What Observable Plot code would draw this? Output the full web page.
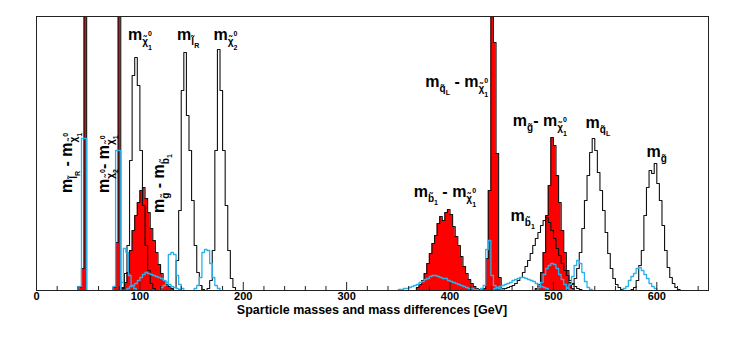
<!DOCTYPE html>
<html><head><meta charset="utf-8">
<script src="https://cdn.jsdelivr.net/npm/d3@7"></script>
<script src="https://cdn.jsdelivr.net/npm/@observablehq/plot@0.6"></script>
<style>body{margin:0;background:#fff}</style>
</head><body><div id="chart"></div>
<script>
const binWidth = 2.5;

// Open (black outline) histograms: sparticle masses
const blackNames = ["chi1", "slR", "chi2", "sb1", "sqL", "gluino"];
const blackStarts = [82.5, 132.5, 165, 450, 512.5, 575];
const blackCounts = [
  [3, 17, 45, 130, 215, 233, 205, 140, 85, 45, 20, 7, 2],
  [3, 30, 80, 200, 238, 175, 140, 90, 45, 18, 5, 1],
  [2, 10, 40, 140, 241, 200, 140, 85, 40, 12, 3],
  [1, 2, 3, 4, 5, 7, 10, 13, 18, 24, 30, 37, 45, 52, 58, 65, 70, 73, 68, 60, 52, 42, 35, 27, 20, 15, 10, 7, 4, 2, 1],
  [1, 3, 6, 12, 22, 38, 62, 90, 115, 138, 152, 140, 118, 100, 80, 58, 37, 22, 12, 6, 3, 1],
  [1, 3, 10, 25, 40, 75, 103, 120, 117, 127, 107, 90, 65, 40, 23, 13, 7, 3, 1]
];

// Filled (red) histograms: mass differences
const redNames = ["slR-chi1", "chi2-chi1", "gluino-sb1", "sb1-chi1", "sqL-chi1", "gluino-chi1"];
const redStarts = [41, 74, 82.5, 367.5, 432, 482.5];
const redCounts = [
  [3, 22, 400],
  [3, 48, 400],
  [2, 8, 18, 40, 60, 75, 88, 100, 103, 92, 78, 62, 50, 38, 26, 17, 10, 6, 4, 2],
  [3, 6, 10, 17, 27, 37, 47, 55, 67, 74, 70, 78, 81, 76, 64, 54, 45, 34, 24, 17, 11, 7, 4, 2, 1],
  [2, 32, 100, 400, 248, 137, 13, 2],
  [2, 6, 18, 38, 75, 105, 153, 145, 115, 88, 60, 38, 20, 8, 2]
];

// Light blue outline histograms
const blueStarts = [41, 74, 81.5, 87.5, 120, 152.5, 350, 429.5, 442.5, 485, 512.5, 567.5];
const blueCounts = [
  [4, 152, 152],
  [4, 140, 140],
  [8, 42, 38, 15, 5, 2],
  [2, 4, 5, 7, 10, 13, 16, 18, 17, 16, 15, 14, 13, 12, 10, 8, 6, 4, 3, 2, 1],
  [3, 5, 8, 36, 38, 36, 15, 6, 2],
  [2, 5, 13, 38, 41, 40, 27, 13, 5, 2],
  [1, 1, 2, 2, 3, 4, 5, 6, 8, 9, 11, 12, 14, 15, 15, 14, 13, 12, 12, 10, 9, 8, 7, 6, 5, 4, 3, 2, 2, 1, 1],
  [2, 5, 41, 50, 15, 5, 3, 2, 1],
  [2, 3, 4, 5, 6, 7, 8, 10, 11, 12, 13, 13, 12, 11, 10, 9, 7, 5, 4, 3, 2],
  [3, 8, 16, 22, 25, 27, 26, 22, 16, 11, 6, 3, 1],
  [2, 6, 14, 25, 30, 27, 18, 9, 3, 1],
  [2, 4, 10, 14, 17, 22, 23, 20, 16, 12, 7, 4, 2]
];

const majorTicks = [0, 100, 200, 300, 400, 500, 600];
const minorTicks = [20, 40, 60, 80, 120, 140, 160, 180, 220, 240, 260, 280, 320, 340, 360, 380, 420, 440, 460, 480, 520, 540, 560, 580, 620, 640];
const xTitle = "Sparticle masses and mass differences [GeV]";

// Labels: anchor in data coordinates (GeV, histogram height), rotation, parts
// subscript part: [sparticle symbol with tilde, superscript, index]
const labelX = [89.1, 136.5, 171.7, 376.6, 365.3, 461.2, 459, 531.6, 590.6, 34.9, 70.2, 123.5];
const labelY = [250, 250, 250, 203, 93, 164, 69, 162, 133, 97, 97, 77];
const labelRot = [0, 0, 0, 0, 0, 0, 0, 0, 0, -90, -90, -90];
const labelParts = [
  ["m", ["χ̃", "0", "1"]],
  ["m", ["l̃", "", "R"]],
  ["m", ["χ̃", "0", "2"]],
  ["m", ["q̃", "", "L"], " - ", "m", ["χ̃", "0", "1"]],
  ["m", ["b̃", "", "1"], " - ", "m", ["χ̃", "0", "1"]],
  ["m", ["g̃", "", ""], "- ", "m", ["χ̃", "0", "1"]],
  ["m", ["b̃", "", "1"]],
  ["m", ["q̃", "", "L"]],
  ["m", ["g̃", "", ""]],
  ["m", ["l̃", "", "R"], " - ", "m", ["χ̃", "0", "1"]],
  ["m", ["χ̃", "0", "2"], "- ", "m", ["χ̃", "0", "1"]],
  ["m", ["g̃", "", ""], " - ", "m", ["b̃", "", "1"]]
];

function steps(starts, counts) {
  const pts = [];
  starts.forEach((s, k) => {
    const c = counts[k];
    pts.push({id: k, x: s, y: 0});
    c.forEach((v, i) => {
      pts.push({id: k, x: s + i * binWidth, y: v});
      pts.push({id: k, x: s + (i + 1) * binWidth, y: v});
    });
    pts.push({id: k, x: s + c.length * binWidth, y: 0});
  });
  return pts;
}

const blackPts = steps(blackStarts, blackCounts);
const redPts = steps(redStarts, redCounts);
const bluePts = steps(blueStarts, blueCounts);

const FONT = "'Liberation Sans', Arial, Helvetica, sans-serif";
const W = 747, H = 342, mT = 16, mB = 52, mL = 36, mR = 39;
const frameH = H - mT - mB;

const plot = Plot.plot({
  width: W, height: H,
  marginLeft: mL, marginRight: mR, marginTop: mT, marginBottom: mB,
  x: {domain: [0, 650]},
  y: {domain: [0, 274], axis: null},
  style: {fontFamily: FONT, fontSize: "11px", fontWeight: "bold", color: "#000", background: "#fff"},
  marks: [
    Plot.areaY(redPts, {x: "x", y1: 0, y2: "y", z: "id", fill: "#ff0000", clip: true}),
    Plot.line(redPts, {x: "x", y: "y", z: "id", stroke: "#111", strokeWidth: 1.1, clip: true}),
    Plot.line(blackPts, {x: "x", y: "y", z: "id", stroke: "#111", strokeWidth: 1.1, clip: true}),
    Plot.line(bluePts, {x: "x", y: "y", z: "id", stroke: "#29b1ec", strokeWidth: 1.3, clip: true}),
    Plot.ruleX(minorTicks, {stroke: "#222", strokeWidth: 1, insetTop: frameH - 4}),
    Plot.ruleX(majorTicks, {stroke: "#222", strokeWidth: 1, insetTop: frameH - 8}),
    Plot.axisX({ticks: majorTicks, tickSize: 0, tickPadding: 2, label: null, tickFormat: d => String(d)}),
    Plot.frame({stroke: "#222", strokeWidth: 1})
  ]
});
document.getElementById("chart").appendChild(plot);

const sx = plot.scale("x"), sy = plot.scale("y");
const svg = d3.select(plot);

svg.append("text")
  .attr("x", (sx.apply(0) + sx.apply(650)) / 2)
  .attr("y", 314)
  .attr("text-anchor", "middle")
  .attr("font-family", FONT).attr("font-weight", "bold").attr("font-size", 12.5)
  .attr("fill", "#000")
  .text(xTitle);

labelParts.forEach((parts, k) => {
  const g = svg.append("g")
    .attr("transform", `translate(${sx.apply(labelX[k])},${sy.apply(labelY[k])})` + (labelRot[k] ? ` rotate(${labelRot[k]})` : ""));
  const t = g.append("text")
    .attr("text-anchor", "start")
    .attr("font-family", FONT).attr("font-weight", "bold").attr("fill", "#000")
    .style("white-space", "pre");
  parts.forEach(p => {
    if (typeof p === "string") {
      t.append("tspan").attr("y", 0).attr("font-size", 16).text(p);
    } else {
      const [sub, sup, idx] = p;
      t.append("tspan").attr("y", 5).attr("font-size", 10).text(sub);
      if (sup) t.append("tspan").attr("y", -4).attr("font-size", 7).text(sup);
      if (idx) t.append("tspan").attr("y", sup ? 9.5 : 8).attr("dx", sup ? -3.9 : 0).attr("font-size", 7).text(idx);
    }
  });
});
</script>
</body></html>
